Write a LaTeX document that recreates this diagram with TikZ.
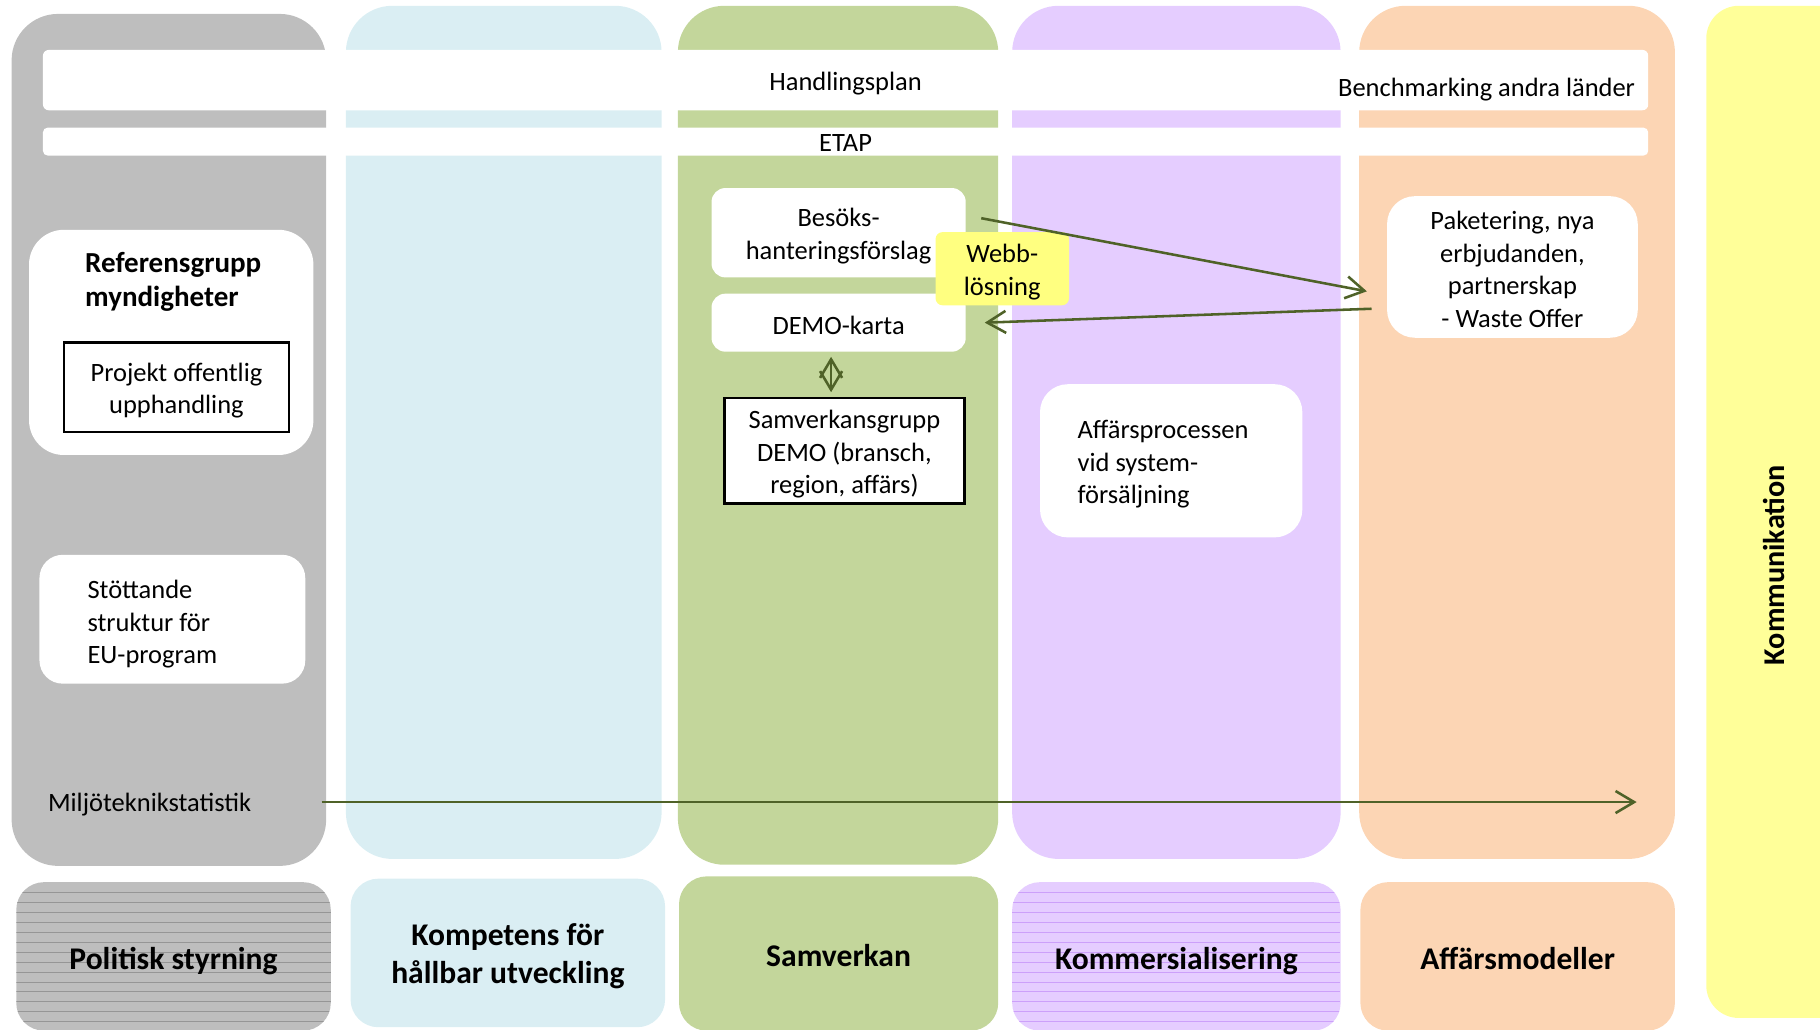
\documentclass[tikz,border=0pt]{standalone}
\usepackage{fontspec}
\setmainfont{Carlito}
\usetikzlibrary{arrows.meta}
\definecolor{polgray}{RGB}{190,190,190}
\definecolor{polline}{RGB}{150,150,150}
\definecolor{kompblue}{RGB}{218,238,243}
\definecolor{samgreen}{RGB}{195,214,155}
\definecolor{kommlila}{RGB}{229,205,255}
\definecolor{lilaline}{RGB}{204,160,250}
\definecolor{affpeach}{RGB}{252,213,180}
\definecolor{kommyellow}{RGB}{255,255,153}
\definecolor{webbyellow}{RGB}{255,255,128}
\definecolor{pilgreen}{RGB}{79,98,40}

\begin{document}
\begin{tikzpicture}[x=0.5pt, y=-0.5pt,
    txt/.style={font=\fontsize{11.4}{14}\selectfont, align=center, inner sep=0pt},
    head/.style={font=\fontsize{13.6}{16.5}\selectfont\bfseries, align=center, inner sep=0pt},
    card/.style={fill=white, inner sep=0pt},
    frame/.style={draw=black, line width=1.1pt, fill=white, inner sep=0pt},
    tab/.style={rounded corners=12pt, minimum width=135.5pt, minimum height=64pt, inner sep=0pt},
    ruled/.style={path picture={
        \foreach \k in {1,...,16}
          \draw[#1, line width=0.4pt] ([yshift=-\k*4.3pt]path picture bounding box.north west)
            -- ([yshift=-\k*4.3pt]path picture bounding box.north east);}},
    flow/.style={draw=pilgreen, line width=1.1pt, -{Straight Barb[length=8pt,width=9.5pt]}}]
  \clip (0,0) rectangle (1568,887);
  % columns
  \fill[polgray, rounded corners=20pt] (10,12) rectangle (281,746);
  \fill[kompblue, rounded corners=20pt] (298,5) rectangle (570,740);
  \fill[samgreen, rounded corners=20pt] (584,5) rectangle (860,745);
  \fill[kommlila, rounded corners=20pt] (872,5) rectangle (1155,740);
  \fill[affpeach, rounded corners=20pt] (1171,5) rectangle (1443,740);
  \fill[kommyellow, rounded corners=14pt] (1470,5) rectangle (1620,877);

  % bars across
  \node[card, rounded corners=2.5pt, minimum width=691.5pt, minimum height=26pt] (handl) at (728.5,69) {};
  \node[txt] (handltext) at ([yshift=-1.5pt]handl.center) {Handlingsplan};
  \node[txt, anchor=east] (bench) at (1409,77) {Benchmarking andra länder};
  \node[card, rounded corners=2pt, minimum width=691.5pt, minimum height=12pt] (etap) at (728.5,122) {};
  \node[txt] (etaptext) at ([yshift=-0.5pt]etap.center) {ETAP};

  % politisk styrning
  \node[card, rounded corners=15pt, minimum width=122.5pt, minimum height=97pt] (ref) at (147.5,295) {};
  \node[head, font=\fontsize{12.5}{14.5}\selectfont\bfseries, align=left, anchor=west] (refhead) at (73,243) {Referensgrupp\\myndigheter};
  \node[frame, minimum width=97pt, minimum height=38.5pt] (proj) at (152,333.5) {};
  \node[txt] (projtext) at ([yshift=-1.5pt]proj.center) {Projekt offentlig\\upphandling};
  \node[card, rounded corners=10pt, minimum width=114.5pt, minimum height=55.5pt] (eu) at (148.5,533.5) {};
  \node[txt, align=left, anchor=west] (eutext) at (75,538) {Stöttande\\struktur för\\EU-program};
  \node[txt, anchor=west] (miljo) at (41,693) {Miljöteknikstatistik};
  \coordinate (mstart) at (277,691);
  \coordinate (mend) at (1410,691);
  \draw[flow] (mstart) -- (mend);

  % samverkan
  \node[card, rounded corners=6pt, minimum width=109.5pt, minimum height=38.5pt] (besok) at (722.5,200.5) {};
  \node[txt] (besoktext) at ([yshift=-1.5pt]besok.center) {Besöks-\\hanteringsförslag};
  \node[card, rounded corners=6pt, minimum width=109.5pt, minimum height=25pt] (demo) at (722.5,278) {};
  \node[txt] (demotext) at ([yshift=-1pt]demo.center) {DEMO-karta};
  \node[fill=webbyellow, rounded corners=3pt, minimum width=57.5pt, minimum height=31.5pt] (webb) at (863.5,231.5) {};
  \node[txt] (webbtext) at ([yshift=-1.5pt]webb.center) {Webb-\\lösning};
  \node[frame, minimum width=103.5pt, minimum height=45.5pt] (samv) at (727.5,388.5) {};
  \node[txt] (samvtext) at ([yshift=-1.5pt]samv.center) {Samverkansgrupp\\DEMO (bransch,\\region, affärs)};
  \draw[draw=pilgreen, line width=1.1pt, {Straight Barb[length=8pt,width=9.5pt]}-{Straight Barb[length=8pt,width=9.5pt]}]
    ([xshift=-3.25pt,yshift=-2pt]demo.south) -- ([xshift=-5.75pt,yshift=2pt]samv.north);

  % kommersialisering, affärsmodeller
  \node[card, rounded corners=12pt, minimum width=113pt, minimum height=66pt] (affar) at (1009,397) {};
  \node[txt, align=left, anchor=west] (affartext) at (928,400) {Affärsprocessen\\vid system-\\försäljning};
  \node[card, rounded corners=12pt, minimum width=108pt, minimum height=61pt] (paket) at (1303,230) {};
  \node[txt] (pakettext) at ([yshift=-1pt]paket.center) {Paketering, nya\\erbjudanden,\\partnerskap\\- Waste Offer};
  \draw[flow] ([xshift=6.5pt,yshift=6.25pt]besok.east) -- ([xshift=-8.5pt,yshift=-10.5pt]paket.west);
  \draw[flow] ([xshift=-6.5pt,yshift=-18pt]paket.west) -- ([xshift=8pt]demo.east);

  \node[head, font=\fontsize{13}{16}\selectfont\bfseries, rotate=90] (komm) at (1528,487) {Kommunikation};

  % labels at the bottom
  \node[tab, fill=polgray, ruled=polline] (polit) at (149.5,824) {};
  \node[head] (polittext) at ([yshift=-2pt]polit.center) {Politisk styrning};
  \node[tab, fill=kompblue] (kompet) at (437.5,821) {};
  \node[head] (kompettext) at ([yshift=-1.5pt]kompet.center) {Kompetens för\\hållbar utveckling};
  \node[tab, fill=samgreen, minimum width=137.5pt, minimum height=66.5pt] (samverk) at (722.5,821.5) {};
  \node[head] (samverktext) at ([yshift=-1pt]samverk.center) {Samverkan};
  \node[tab, fill=kommlila, ruled=lilaline, minimum width=141.5pt] (kommers) at (1013.5,824) {};
  \node[head] (kommerstext) at ([yshift=-2pt]kommers.center) {Kommersialisering};
  \node[tab, fill=affpeach] (affmod) at (1307.5,824) {};
  \node[head] (affmodtext) at ([yshift=-1pt]affmod.center) {Affärsmodeller};
\end{tikzpicture}
\end{document}
